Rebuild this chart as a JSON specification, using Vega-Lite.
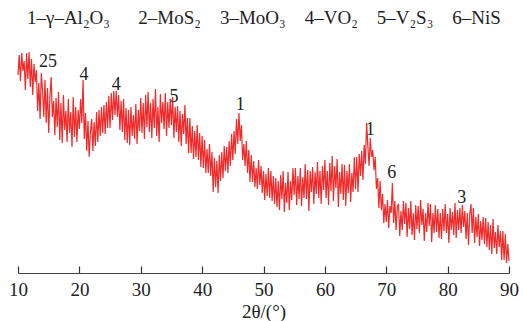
{
  "$schema": "https://vega.github.io/schema/vega-lite/v6.json",
  "autosize": {"type": "none"},
  "width": 491,
  "height": 233,
  "padding": {"left": 18, "top": 40, "right": 14, "bottom": 48},
  "background": "white",
  "config": {"font": "Liberation Serif", "view": {"stroke": null}},
  "title": {
    "text": "1–γ–Al₂O₃\u2003\u20022–MoS₂\u20033–MoO₃\u20034–VO₂\u20035–V₂S₃\u20036–NiS",
    "anchor": "start",
    "frame": "group",
    "dx": 9,
    "offset": 12,
    "fontSize": 19,
    "fontWeight": "normal",
    "font": "Liberation Serif",
    "color": "#222222"
  },
  "datasets": {
    "xrd": [
{"x":10.0,"y":198},{"x":10.2,"y":218},{"x":10.4,"y":192},{"x":10.6,"y":220},{"x":10.8,"y":202},
{"x":11.0,"y":212},{"x":11.2,"y":183},{"x":11.4,"y":220},{"x":11.6,"y":194},{"x":11.8,"y":221},
{"x":12.0,"y":186},{"x":12.2,"y":214},{"x":12.4,"y":178},{"x":12.6,"y":209},{"x":12.8,"y":191},
{"x":13.0,"y":203},{"x":13.2,"y":162},{"x":13.4,"y":190},{"x":13.6,"y":154},{"x":13.8,"y":200},
{"x":14.0,"y":182},{"x":14.2,"y":156},{"x":14.4,"y":193},{"x":14.6,"y":150},{"x":14.8,"y":185},
{"x":15.0,"y":140},{"x":15.2,"y":176},{"x":15.4,"y":196},{"x":15.6,"y":156},{"x":15.8,"y":172},
{"x":16.0,"y":138},{"x":16.2,"y":175},{"x":16.4,"y":146},{"x":16.6,"y":181},{"x":16.8,"y":133},
{"x":17.0,"y":170},{"x":17.2,"y":130},{"x":17.4,"y":178},{"x":17.6,"y":143},{"x":17.8,"y":162},
{"x":18.0,"y":131},{"x":18.2,"y":174},{"x":18.4,"y":140},{"x":18.6,"y":161},{"x":18.8,"y":126},
{"x":19.0,"y":176},{"x":19.2,"y":136},{"x":19.4,"y":166},{"x":19.6,"y":131},{"x":19.8,"y":163},
{"x":20.0,"y":144},{"x":20.2,"y":174},{"x":20.4,"y":150},{"x":20.6,"y":193},{"x":20.8,"y":134},
{"x":21.0,"y":160},{"x":21.2,"y":122},{"x":21.4,"y":152},{"x":21.6,"y":116},{"x":21.8,"y":141},
{"x":22.0,"y":154},{"x":22.2,"y":122},{"x":22.4,"y":151},{"x":22.6,"y":127},{"x":22.8,"y":161},
{"x":23.0,"y":131},{"x":23.2,"y":163},{"x":23.4,"y":137},{"x":23.6,"y":166},{"x":23.8,"y":140},
{"x":24.0,"y":168},{"x":24.2,"y":139},{"x":24.4,"y":171},{"x":24.6,"y":145},{"x":24.8,"y":177},
{"x":25.0,"y":145},{"x":25.2,"y":180},{"x":25.4,"y":153},{"x":25.6,"y":182},{"x":25.8,"y":158},
{"x":26.0,"y":182},{"x":26.2,"y":156},{"x":26.4,"y":178},{"x":26.6,"y":143},{"x":26.8,"y":172},
{"x":27.0,"y":141},{"x":27.2,"y":174},{"x":27.4,"y":133},{"x":27.6,"y":165},{"x":27.8,"y":130},
{"x":28.0,"y":163},{"x":28.2,"y":128},{"x":28.4,"y":166},{"x":28.6,"y":137},{"x":28.8,"y":158},
{"x":29.0,"y":134},{"x":29.2,"y":169},{"x":29.4,"y":129},{"x":29.6,"y":163},{"x":29.8,"y":142},
{"x":30.0,"y":175},{"x":30.2,"y":140},{"x":30.4,"y":170},{"x":30.6,"y":134},{"x":30.8,"y":178},
{"x":31.0,"y":146},{"x":31.2,"y":181},{"x":31.4,"y":141},{"x":31.6,"y":170},{"x":31.8,"y":135},
{"x":32.0,"y":174},{"x":32.2,"y":145},{"x":32.4,"y":184},{"x":32.6,"y":137},{"x":32.8,"y":166},
{"x":33.0,"y":131},{"x":33.2,"y":179},{"x":33.4,"y":150},{"x":33.6,"y":171},{"x":33.8,"y":144},
{"x":34.0,"y":180},{"x":34.2,"y":137},{"x":34.4,"y":171},{"x":34.6,"y":145},{"x":34.8,"y":174},
{"x":35.0,"y":148},{"x":35.2,"y":176},{"x":35.4,"y":135},{"x":35.6,"y":166},{"x":35.8,"y":141},
{"x":36.0,"y":167},{"x":36.2,"y":131},{"x":36.4,"y":162},{"x":36.6,"y":127},{"x":36.8,"y":159},
{"x":37.0,"y":139},{"x":37.2,"y":168},{"x":37.4,"y":129},{"x":37.6,"y":155},{"x":37.8,"y":120},
{"x":38.0,"y":155},{"x":38.2,"y":120},{"x":38.4,"y":147},{"x":38.6,"y":114},{"x":38.8,"y":142},
{"x":39.0,"y":116},{"x":39.2,"y":148},{"x":39.4,"y":113},{"x":39.6,"y":140},{"x":39.8,"y":106},
{"x":40.0,"y":137},{"x":40.2,"y":105},{"x":40.4,"y":133},{"x":40.6,"y":100},{"x":40.8,"y":124},
{"x":41.0,"y":100},{"x":41.2,"y":129},{"x":41.4,"y":97},{"x":41.6,"y":121},{"x":41.8,"y":81},
{"x":42.0,"y":115},{"x":42.2,"y":86},{"x":42.4,"y":112},{"x":42.6,"y":80},{"x":42.8,"y":118},
{"x":43.0,"y":92},{"x":43.2,"y":121},{"x":43.4,"y":95},{"x":43.6,"y":127},{"x":43.8,"y":102},
{"x":44.0,"y":126},{"x":44.2,"y":100},{"x":44.4,"y":132},{"x":44.6,"y":107},{"x":44.8,"y":139},
{"x":45.0,"y":113},{"x":45.2,"y":142},{"x":45.4,"y":119},{"x":45.6,"y":154},{"x":45.8,"y":129},
{"x":46.0,"y":160},{"x":46.2,"y":132},{"x":46.4,"y":148},{"x":46.6,"y":113},{"x":46.8,"y":129},
{"x":47.0,"y":107},{"x":47.2,"y":132},{"x":47.4,"y":100},{"x":47.6,"y":123},{"x":47.8,"y":91},
{"x":48.0,"y":118},{"x":48.2,"y":91},{"x":48.4,"y":112},{"x":48.6,"y":86},{"x":48.8,"y":105},
{"x":49.0,"y":84},{"x":49.2,"y":113},{"x":49.4,"y":88},{"x":49.6,"y":107},{"x":49.8,"y":80},
{"x":50.0,"y":102},{"x":50.2,"y":73},{"x":50.4,"y":99},{"x":50.6,"y":77},{"x":50.8,"y":105},
{"x":51.0,"y":75},{"x":51.2,"y":102},{"x":51.4,"y":72},{"x":51.6,"y":97},{"x":51.8,"y":69},
{"x":52.0,"y":95},{"x":52.2,"y":66},{"x":52.4,"y":92},{"x":52.6,"y":63},{"x":52.8,"y":98},
{"x":53.0,"y":74},{"x":53.2,"y":102},{"x":53.4,"y":61},{"x":53.6,"y":90},{"x":53.8,"y":70},
{"x":54.0,"y":101},{"x":54.2,"y":63},{"x":54.4,"y":92},{"x":54.6,"y":73},{"x":54.8,"y":105},
{"x":55.0,"y":78},{"x":55.2,"y":105},{"x":55.4,"y":68},{"x":55.6,"y":97},{"x":55.8,"y":74},
{"x":56.0,"y":105},{"x":56.2,"y":67},{"x":56.4,"y":96},{"x":56.6,"y":75},{"x":56.8,"y":109},
{"x":57.0,"y":74},{"x":57.2,"y":103},{"x":57.4,"y":62},{"x":57.6,"y":102},{"x":57.8,"y":81},
{"x":58.0,"y":106},{"x":58.2,"y":69},{"x":58.4,"y":101},{"x":58.6,"y":79},{"x":58.8,"y":111},
{"x":59.0,"y":75},{"x":59.2,"y":102},{"x":59.4,"y":69},{"x":59.6,"y":107},{"x":59.8,"y":83},
{"x":60.0,"y":113},{"x":60.2,"y":75},{"x":60.4,"y":102},{"x":60.6,"y":68},{"x":60.8,"y":110},
{"x":61.0,"y":82},{"x":61.2,"y":117},{"x":61.4,"y":72},{"x":61.6,"y":107},{"x":61.8,"y":85},
{"x":62.0,"y":114},{"x":62.2,"y":66},{"x":62.4,"y":101},{"x":62.6,"y":79},{"x":62.8,"y":109},
{"x":63.0,"y":73},{"x":63.2,"y":108},{"x":63.4,"y":67},{"x":63.6,"y":102},{"x":63.8,"y":80},
{"x":64.0,"y":109},{"x":64.2,"y":71},{"x":64.4,"y":100},{"x":64.6,"y":81},{"x":64.8,"y":116},
{"x":65.0,"y":84},{"x":65.2,"y":116},{"x":65.4,"y":81},{"x":65.6,"y":119},{"x":65.8,"y":97},
{"x":66.0,"y":122},{"x":66.2,"y":93},{"x":66.4,"y":128},{"x":66.6,"y":109},{"x":66.8,"y":150},
{"x":67.0,"y":127},{"x":67.2,"y":107},{"x":67.4,"y":135},{"x":67.6,"y":116},{"x":67.8,"y":123},
{"x":68.0,"y":103},{"x":68.2,"y":116},{"x":68.4,"y":84},{"x":68.6,"y":95},{"x":68.8,"y":65},
{"x":69.0,"y":92},{"x":69.2,"y":63},{"x":69.4,"y":79},{"x":69.6,"y":50},{"x":69.8,"y":69},
{"x":70.0,"y":51},{"x":70.2,"y":73},{"x":70.4,"y":45},{"x":70.6,"y":67},{"x":70.8,"y":60},
{"x":71.0,"y":90},{"x":71.2,"y":50},{"x":71.4,"y":72},{"x":71.6,"y":43},{"x":71.8,"y":66},
{"x":72.0,"y":69},{"x":72.2,"y":37},{"x":72.4,"y":62},{"x":72.6,"y":43},{"x":72.8,"y":72},
{"x":73.0,"y":49},{"x":73.2,"y":70},{"x":73.4,"y":36},{"x":73.6,"y":65},{"x":73.8,"y":44},
{"x":74.0,"y":72},{"x":74.2,"y":38},{"x":74.4,"y":60},{"x":74.6,"y":33},{"x":74.8,"y":68},
{"x":75.0,"y":44},{"x":75.2,"y":67},{"x":75.4,"y":40},{"x":75.6,"y":73},{"x":75.8,"y":48},
{"x":76.0,"y":64},{"x":76.2,"y":32},{"x":76.4,"y":60},{"x":76.6,"y":41},{"x":76.8,"y":70},
{"x":77.0,"y":47},{"x":77.2,"y":69},{"x":77.4,"y":31},{"x":77.6,"y":60},{"x":77.8,"y":40},
{"x":78.0,"y":68},{"x":78.2,"y":41},{"x":78.4,"y":64},{"x":78.6,"y":35},{"x":78.8,"y":60},
{"x":79.0,"y":34},{"x":79.2,"y":64},{"x":79.4,"y":42},{"x":79.6,"y":69},{"x":79.8,"y":40},
{"x":80.0,"y":59},{"x":80.2,"y":30},{"x":80.4,"y":65},{"x":80.6,"y":43},{"x":80.8,"y":61},
{"x":81.0,"y":38},{"x":81.2,"y":70},{"x":81.4,"y":35},{"x":81.6,"y":63},{"x":81.8,"y":43},
{"x":82.0,"y":65},{"x":82.2,"y":40},{"x":82.4,"y":68},{"x":82.6,"y":46},{"x":82.8,"y":62},
{"x":83.0,"y":34},{"x":83.2,"y":60},{"x":83.4,"y":28},{"x":83.6,"y":58},{"x":83.8,"y":69},
{"x":84.0,"y":40},{"x":84.2,"y":65},{"x":84.4,"y":30},{"x":84.6,"y":56},{"x":84.8,"y":36},
{"x":85.0,"y":59},{"x":85.2,"y":27},{"x":85.4,"y":52},{"x":85.6,"y":33},{"x":85.8,"y":56},
{"x":86.0,"y":29},{"x":86.2,"y":55},{"x":86.4,"y":26},{"x":86.6,"y":51},{"x":86.8,"y":23},
{"x":87.0,"y":48},{"x":87.2,"y":19},{"x":87.4,"y":54},{"x":87.6,"y":25},{"x":87.8,"y":41},
{"x":88.0,"y":19},{"x":88.2,"y":48},{"x":88.4,"y":26},{"x":88.6,"y":42},{"x":88.8,"y":13},
{"x":89.0,"y":42},{"x":89.2,"y":13},{"x":89.4,"y":39},{"x":89.6,"y":10},{"x":89.8,"y":29},
{"x":90.0,"y":12}
    ],
    "peaks": [
      {"x": 14.9, "y": 211, "label": "25"},
      {"x": 20.75, "y": 198, "label": "4"},
      {"x": 26.0, "y": 188, "label": "4"},
      {"x": 35.4, "y": 176, "label": "5"},
      {"x": 46.2, "y": 168, "label": "1"},
      {"x": 67.4, "y": 143, "label": "1"},
      {"x": 70.9, "y": 100, "label": "6"},
      {"x": 82.3, "y": 75, "label": "3"}
    ]
  },
  "layer": [
    {
      "data": {"name": "xrd"},
      "mark": {"type": "line", "color": "#EE2A2A", "strokeWidth": 1.2, "interpolate": "linear"},
      "encoding": {
        "x": {
          "field": "x", "type": "quantitative",
          "scale": {"domain": [10, 90], "nice": false},
          "axis": {
            "title": "2θ/(°)",
            "values": [10, 20, 30, 40, 50, 60, 70, 80, 90],
            "grid": false,
            "zindex": 1,
            "domainColor": "#444444",
            "domainWidth": 1.2,
            "tickColor": "#333333",
            "tickWidth": 1.2,
            "tickSize": -7,
            "labelPadding": 14,
            "labelFontSize": 19,
            "labelFont": "Liberation Serif",
            "labelColor": "#222222",
            "labelFlush": false,
            "titleFontSize": 19,
            "titleFont": "Liberation Serif",
            "titleFontWeight": "normal",
            "titleColor": "#222222",
            "titlePadding": 3
          }
        },
        "y": {
          "field": "y", "type": "quantitative",
          "scale": {"domain": [0, 233], "nice": false, "zero": false},
          "axis": null
        }
      }
    },
    {
      "data": {"name": "peaks"},
      "mark": {"type": "text", "fontSize": 18, "font": "Liberation Serif", "color": "#222222", "baseline": "middle", "align": "center"},
      "encoding": {
        "x": {"field": "x", "type": "quantitative"},
        "y": {"field": "y", "type": "quantitative"},
        "text": {"field": "label"}
      }
    }
  ]
}
